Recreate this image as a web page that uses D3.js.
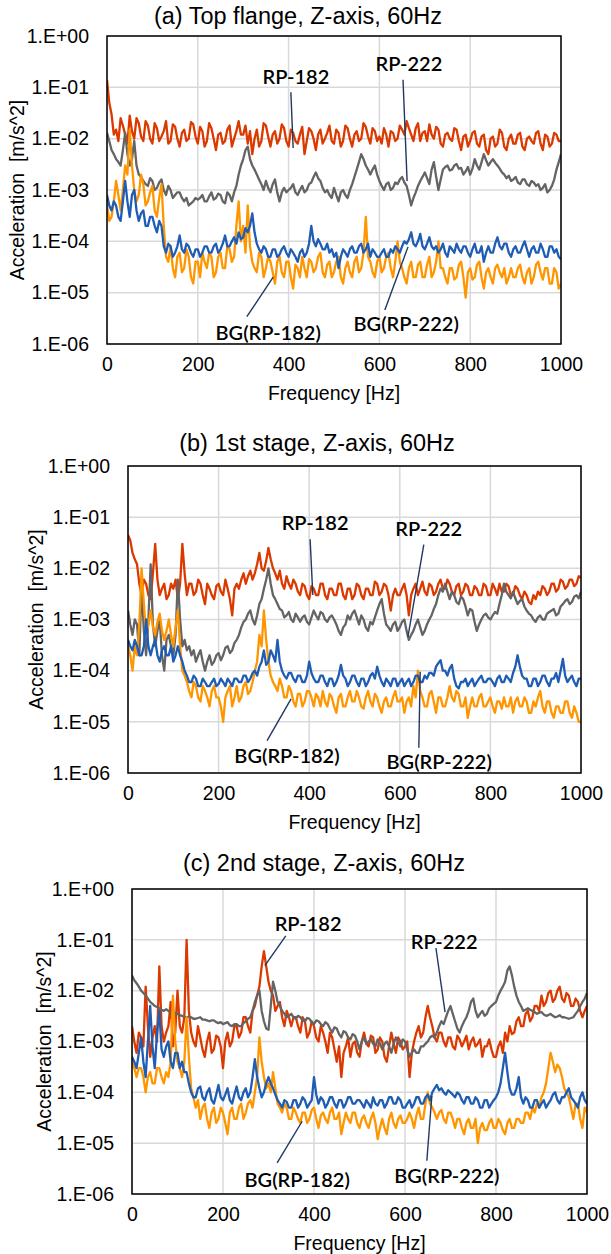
<!DOCTYPE html>
<html>
<head>
<meta charset="utf-8">
<script src="https://cdn.jsdelivr.net/npm/d3@7"></script>
<style>
  body { margin: 0; background: #fff; }
  svg text { font-family: "Liberation Sans", Arial, sans-serif; fill: #000; }
  .ann { font-family: Lato, "Open Sans", sans-serif; font-weight: 600; }
</style>
</head>
<body>
<svg id="chart" width="611" height="1254"></svg>
<script>
// sampling grid, Hz (5 Hz steps, 0..1000)
var freq = d3.range(0, 1001, 5);

var titles = ["(a) Top flange, Z-axis, 60Hz", "(b) 1st stage, Z-axis, 60Hz", "(c) 2nd stage, Z-axis, 60Hz"];
var seriesNames = ["RP-182", "RP-222", "BG(RP-182)", "BG(RP-222)"];
var xTicks = [0, 200, 400, 600, 800, 1000];
var yTicks = [1e-6, 1e-5, 1e-4, 1e-3, 1e-2, 1e-1, 1];
var yTickLabels = ["1.E-06", "1.E-05", "1.E-04", "1.E-03", "1.E-02", "1.E-01", "1.E+00"];

// (a) top flange
var aRP182 = [
  140e-3,50e-3,30e-3,12e-3,15e-3,9e-3,25e-3,18e-3,12e-3,8e-3,28e-3,14e-3,10e-3,25e-3,20e-3,11e-3,9e-3,22e-3,18e-3,10e-3,
  8e-3,20e-3,16e-3,9e-3,11e-3,14e-3,22e-3,8e-3,9e-3,19e-3,17e-3,10e-3,7e-3,13e-3,15e-3,9e-3,10e-3,21e-3,19e-3,11e-3,
  8e-3,17e-3,14e-3,7e-3,9e-3,20e-3,16e-3,10e-3,6e-3,12e-3,13e-3,8e-3,9e-3,15e-3,18e-3,7e-3,10e-3,14e-3,22e-3,12e-3,
  12e-3,18e-3,8e-3,14e-3,5e-3,10e-3,15e-3,7e-3,9e-3,20e-3,18e-3,11e-3,7e-3,12e-3,14e-3,8e-3,10e-3,19e-3,16e-3,9e-3,
  7e-3,15e-3,13e-3,9e-3,8e-3,12e-3,17e-3,5e-3,9e-3,16e-3,14e-3,10e-3,6e-3,12e-3,15e-3,8e-3,10e-3,13e-3,18e-3,9e-3,
  8e-3,15e-3,13e-3,7e-3,9e-3,18e-3,16e-3,10e-3,7e-3,12e-3,14e-3,9e-3,10e-3,20e-3,17e-3,11e-3,8e-3,16e-3,14e-3,9e-3,
  11e-3,8e-3,16e-3,12e-3,7e-3,14e-3,13e-3,9e-3,10e-3,18e-3,15e-3,12e-3,22e-3,16e-3,12e-3,9e-3,16e-3,20e-3,9e-3,13e-3,
  14e-3,9e-3,19e-3,12e-3,10e-3,17e-3,15e-3,8e-3,7e-3,12e-3,13e-3,10e-3,9e-3,16e-3,15e-3,9e-3,6e-3,11e-3,12e-3,7e-3,
  9e-3,13e-3,14e-3,8e-3,7e-3,11e-3,12e-3,6e-3,5e-3,10e-3,11e-3,7e-3,8e-3,15e-3,13e-3,7e-3,6e-3,10e-3,12e-3,8e-3,
  8e-3,12e-3,13e-3,7e-3,6e-3,10e-3,11e-3,9e-3,8e-3,13e-3,14e-3,8e-3,6e-3,12e-3,11e-3,7e-3,8e-3,13e-3,12e-3,9e-3,
  9e-3];
var aRP222 = [
  13e-3,9e-3,6e-3,5e-3,4e-3,3.5e-3,3e-3,6e-3,13e-3,5e-3,3e-3,4e-3,9e-3,3e-3,2e-3,1.8e-3,1.5e-3,1.3e-3,1.2e-3,1.7e-3,
  1.5e-3,1.0e-3,1.1e-3,1.4e-3,1.6e-3,1.0e-3,0.8e-3,1.2e-3,1.0e-3,0.7e-3,0.8e-3,0.9e-3,0.9e-3,0.7e-3,0.6e-3,0.7e-3,0.5e-3,0.55e-3,0.6e-3,0.7e-3,
  0.65e-3,0.7e-3,0.8e-3,0.6e-3,0.6e-3,0.75e-3,0.9e-3,0.65e-3,0.7e-3,0.85e-3,0.8e-3,0.6e-3,0.55e-3,0.9e-3,0.8e-3,0.6e-3,0.9e-3,1.2e-3,2e-3,3e-3,
  4e-3,6e-3,7e-3,4e-3,3e-3,2.5e-3,2e-3,1.6e-3,1.3e-3,1.0e-3,1.5e-3,1.1e-3,0.9e-3,1.3e-3,1.6e-3,0.9e-3,0.6e-3,0.9e-3,1.1e-3,0.9e-3,
  1.0e-3,1.1e-3,1.3e-3,0.9e-3,0.8e-3,1.0e-3,1.2e-3,0.9e-3,1.0e-3,1.3e-3,1.4e-3,1.8e-3,2.2e-3,1.7e-3,1.5e-3,1.1e-3,0.9e-3,1.0e-3,0.8e-3,0.7e-3,
  1.1e-3,0.8e-3,0.6e-3,0.9e-3,1.0e-3,0.8e-3,0.7e-3,1.0e-3,1.3e-3,1.8e-3,2.5e-3,3.5e-3,5e-3,4e-3,3e-3,2.5e-3,2e-3,2.5e-3,3e-3,2e-3,
  1.5e-3,1.2e-3,1.0e-3,1.3e-3,1.4e-3,1.0e-3,1.1e-3,1.4e-3,1.3e-3,1.6e-3,1.8e-3,1.4e-3,1.2e-3,0.8e-3,0.5e-3,0.7e-3,0.9e-3,1.2e-3,1.5e-3,1.8e-3,
  2.2e-3,1.7e-3,1.3e-3,2.5e-3,3.5e-3,1.8e-3,1.0e-3,1.6e-3,2.5e-3,2.8e-3,3e-3,2.4e-3,2.5e-3,3.0e-3,3.2e-3,2.6e-3,2.7e-3,2.0e-3,2.3e-3,2.8e-3,
  2e-3,2.6e-3,4e-3,3e-3,2.5e-3,3.5e-3,5e-3,3.8e-3,3e-3,3.5e-3,4e-3,3.4e-3,3e-3,2.6e-3,2.2e-3,2.0e-3,1.7e-3,1.9e-3,1.5e-3,1.6e-3,
  1.8e-3,1.4e-3,1.3e-3,1.6e-3,1.6e-3,1.3e-3,1.2e-3,1.5e-3,1.4e-3,1.2e-3,1.3e-3,1.0e-3,1.1e-3,1.3e-3,0.9e-3,1.0e-3,1.2e-3,1.6e-3,2.5e-3,3.5e-3,
  5e-3];
var aBG182 = [
  5e-4,2.5e-4,3e-4,6e-4,1.5e-3,8e-4,4e-4,1e-3,3e-3,2e-3,15e-3,3e-3,1e-3,6e-4,8e-4,2e-3,1.3e-3,5e-4,6e-4,9e-4,
  1.2e-3,4e-4,3e-4,7e-4,1.3e-3,2e-4,5e-5,4e-5,8e-5,3e-5,2e-5,5e-5,6e-5,2.5e-5,3e-5,7e-5,5e-5,2e-5,1.5e-5,4e-5,
  4e-5,2e-5,6e-5,4e-5,3e-5,6e-5,5e-5,2e-5,2.5e-5,5e-5,6e-5,3e-5,3e-5,8e-5,7e-5,4e-5,5e-5,2e-4,6e-4,1e-4,
  2e-4,6e-5,5e-4,8e-5,4e-5,3e-5,2.5e-5,6e-5,5e-5,2e-5,3e-5,5e-5,4e-5,2.5e-5,1.5e-5,4e-5,5e-5,2.5e-5,2e-5,4e-5,
  4e-5,2e-5,1.2e-5,3.5e-5,3e-5,2e-5,5e-5,3e-5,2e-5,4.5e-5,4e-5,2.5e-5,3e-5,5e-5,6e-5,2.5e-5,2e-5,3.5e-5,4e-5,2e-5,
  2.5e-5,4e-5,5e-5,2e-5,1.5e-5,3e-5,4e-5,2.5e-5,2e-5,4e-5,5e-5,2.5e-5,3e-5,6e-5,3e-4,5e-5,4e-5,2.5e-5,2e-5,4e-5,
  5e-5,2.5e-5,3e-5,5e-5,6e-5,3e-5,2e-5,4e-5,1e-4,4e-5,3e-5,2e-5,1.5e-5,3e-5,4e-5,2e-5,2e-5,3.5e-5,4e-5,2e-5,
  2e-5,3.5e-5,5e-5,2e-5,2.5e-5,4e-5,1e-4,3e-5,3e-5,2e-5,1.5e-5,3e-5,3e-5,1.8e-5,2e-5,3.5e-5,4e-5,2e-5,8e-6,2.5e-5,
  3e-5,1.8e-5,2e-5,3.5e-5,4e-5,2e-5,1.2e-5,2.5e-5,3e-5,2e-5,1.5e-5,3e-5,3.5e-5,2.5e-5,2e-5,3e-5,1.5e-5,2e-5,3e-5,2e-5,
  2e-5,3e-5,3.5e-5,2e-5,1.5e-5,2.5e-5,3e-5,1.5e-5,2e-5,3.5e-5,4e-5,2.5e-5,1.8e-5,3e-5,3e-5,1.5e-5,1.5e-5,3e-5,2.5e-5,1.2e-5,
  1.5e-5];
var aBG222 = [
  8e-4,5e-4,4e-4,6e-4,5e-4,3e-4,2.5e-4,6e-4,1.5e-3,6e-4,3e-4,8e-4,1e-3,4e-4,2.5e-4,3.5e-4,4e-4,2e-4,2e-4,3e-4,
  3e-4,2e-4,1.5e-4,2.5e-4,2e-4,8e-5,6e-5,9e-5,8e-5,5e-5,6e-5,8e-5,1.3e-4,7e-5,6e-5,9e-5,8e-5,6e-5,5e-5,7e-5,
  7e-5,5e-5,6e-5,8e-5,8e-5,6e-5,6e-5,8e-5,9e-5,6e-5,7e-5,9e-5,1.3e-4,8e-5,8e-5,1e-4,1.2e-4,9e-5,1.5e-4,1.1e-4,
  1.2e-4,1.8e-4,1.5e-4,2e-4,3.5e-4,1.5e-4,9e-5,7e-5,6e-5,8e-5,7e-5,5e-5,5e-5,7e-5,7e-5,5e-5,5.5e-5,7e-5,8e-5,6e-5,
  5e-5,7e-5,6e-5,5e-5,4e-5,6e-5,7e-5,5e-5,6e-5,9e-5,2e-4,1e-4,8e-5,1.1e-4,9e-5,7e-5,7e-5,9e-5,6e-5,7e-5,
  5e-5,6e-5,3e-5,5e-5,7e-5,6e-5,5e-5,7e-5,8e-5,6e-5,6e-5,8e-5,9e-5,6e-5,7e-5,9e-5,5e-5,7e-5,6e-5,5e-5,
  5e-5,6e-5,7e-5,5e-5,5e-5,7e-5,6e-5,8e-5,7e-5,6e-5,8e-5,1e-4,9e-5,1.1e-4,1.5e-4,9e-5,8e-5,1e-4,1.4e-4,8e-5,
  7e-5,9e-5,1.2e-4,8e-5,7e-5,8e-5,6e-5,7e-5,9e-5,6e-5,5e-5,8e-5,7e-5,6e-5,9e-5,7e-5,6e-5,8e-5,8e-5,6e-5,
  5e-5,7e-5,9e-5,6e-5,6e-5,8e-5,4e-5,6e-5,8e-5,6e-5,6e-5,9e-5,1.2e-4,8e-5,7e-5,9e-5,9e-5,6e-5,5e-5,7e-5,
  8e-5,6e-5,6e-5,8e-5,1e-4,7e-5,5e-5,7e-5,8e-5,6e-5,6e-5,9e-5,7e-5,5e-5,5e-5,8e-5,8e-5,6e-5,7e-5,5e-5,
  4.5e-5];

// (b) 1st stage
var bRP182 = [
  45e-3,35e-3,20e-3,15e-3,12e-3,5e-3,3e-3,6e-3,5e-3,3e-3,2.5e-3,8e-3,30e-3,6e-3,3e-3,4e-3,5e-3,2.5e-3,3e-3,5e-3,
  4e-3,6e-3,2.5e-3,5e-3,30e-3,8e-3,3e-3,5e-3,5e-3,3e-3,3.5e-3,6e-3,5e-3,3e-3,2e-3,5e-3,4e-3,3e-3,2.5e-3,4.5e-3,
  5e-3,3.5e-3,3e-3,6e-3,4e-3,2.5e-3,1.2e-3,4e-3,5e-3,4e-3,6e-3,8e-3,5e-3,7e-3,9e-3,6e-3,8e-3,12e-3,20e-3,10e-3,
  9e-3,14e-3,25e-3,15e-3,10e-3,8e-3,6e-3,9e-3,5e-3,4e-3,7e-3,5e-3,4e-3,6e-3,5e-3,3.5e-3,3e-3,5e-3,4.5e-3,3e-3,
  2.5e-3,4.5e-3,4e-3,3e-3,3e-3,5e-3,5e-3,3e-3,2.5e-3,4e-3,4e-3,3e-3,3e-3,5e-3,5e-3,3e-3,2.5e-3,4e-3,4e-3,2.5e-3,
  3e-3,5e-3,4.5e-3,3e-3,2.5e-3,4e-3,4e-3,3e-3,3e-3,5.5e-3,5e-3,3e-3,3.5e-3,5e-3,4.5e-3,3e-3,1.5e-3,3e-3,4e-3,3e-3,
  3e-3,4e-3,5e-3,3e-3,1.2e-3,3e-3,4e-3,5e-3,3e-3,4e-3,5.5e-3,3.5e-3,3e-3,5e-3,4.5e-3,3e-3,3.5e-3,5e-3,6e-3,4e-3,
  4e-3,6e-3,5e-3,3.5e-3,3e-3,4.5e-3,5e-3,3e-3,3.5e-3,5e-3,4.5e-3,3e-3,3e-3,4.5e-3,4e-3,3e-3,3e-3,5e-3,4.5e-3,3e-3,
  3e-3,5e-3,4e-3,3e-3,5e-3,3.5e-3,3.5e-3,5e-3,4.5e-3,3e-3,3e-3,4.5e-3,4e-3,3e-3,2.5e-3,3.5e-3,3e-3,2.2e-3,2e-3,3e-3,
  2.5e-3,3.5e-3,3e-3,4.5e-3,4e-3,3e-3,3.5e-3,5e-3,5e-3,3.5e-3,4e-3,6e-3,5.5e-3,4e-3,4.5e-3,6e-3,6e-3,4.5e-3,5e-3,7e-3,
  6.5e-3];
var bRP222 = [
  1.5e-3,8e-4,5e-4,1e-3,8e-4,2e-4,5e-3,6e-4,2e-4,1e-3,12e-3,8e-4,3e-4,6e-4,1e-3,2e-4,1e-4,4e-4,5e-4,3e-4,
  2e-4,5e-4,6e-3,1e-3,3e-4,4e-4,2.5e-4,3e-4,2e-4,2.5e-4,1.5e-4,2e-4,2.5e-4,1.5e-4,1e-4,1.5e-4,2e-4,1.3e-4,1.5e-4,2e-4,
  2.2e-4,1.6e-4,2e-4,2.8e-4,3e-4,2.2e-4,2.5e-4,3.5e-4,4e-4,5e-4,7e-4,9e-4,1e-3,1.3e-3,1.5e-3,1e-3,8e-4,1.2e-3,2e-3,2.5e-3,
  4e-3,6e-3,10e-3,5e-3,3e-3,2.5e-3,2e-3,1.6e-3,1.5e-3,1.1e-3,1.2e-3,1.4e-3,1e-3,0.9e-3,1.3e-3,1.1e-3,9e-4,1.1e-3,1.2e-3,9e-4,
  8e-4,1.1e-3,1.5e-3,1.2e-3,1e-3,1.4e-3,1.3e-3,1e-3,9e-4,1.1e-3,1.2e-3,1e-3,8e-4,6e-4,5e-4,7e-4,8e-4,1.2e-3,1e-3,1.3e-3,
  1.5e-3,1.1e-3,8e-4,1.2e-3,1e-3,7e-4,6e-4,9e-4,8e-4,1.1e-3,1.5e-3,2e-3,2.5e-3,1.3e-3,8e-4,7e-4,6e-4,8e-4,9e-4,6e-4,
  7e-4,9e-4,1e-3,6e-4,4e-4,5e-4,6e-4,8e-4,1e-3,7e-4,5e-4,6e-4,8e-4,1e-3,1.2e-3,1.6e-3,2e-3,3e-3,4e-3,3.5e-3,
  5e-3,3.5e-3,2.5e-3,3.5e-3,3e-3,2.2e-3,2e-3,2.8e-3,2.5e-3,1.8e-3,1.2e-3,1.6e-3,1.5e-3,9e-4,6e-4,8e-4,1e-3,1.2e-3,1.3e-3,1.1e-3,
  1e-3,1.2e-3,1.4e-3,1.3e-3,2e-3,3e-3,5e-3,3.5e-3,3e-3,2.6e-3,3.5e-3,2.6e-3,2e-3,2.3e-3,2.5e-3,1.8e-3,1.5e-3,1.3e-3,1.2e-3,1e-3,
  9e-4,1.1e-3,1.2e-3,1e-3,1e-3,1.3e-3,1.4e-3,1.5e-3,1.6e-3,1.2e-3,1.3e-3,1.8e-3,2e-3,2.3e-3,2.5e-3,2e-3,2.2e-3,2.8e-3,3e-3,2.6e-3,
  3.5e-3];
var bBG182 = [
  3e-4,2e-4,1e-4,3e-4,2e-4,8e-4,10e-3,2e-3,5e-4,8e-4,1.5e-3,7e-4,5e-4,9e-4,1.3e-3,6e-4,4e-4,6e-4,1e-3,5e-4,
  3e-4,7e-4,1.5e-3,3e-4,1e-4,8e-5,6e-5,4e-5,3e-5,6e-5,5e-5,3e-5,2.5e-5,5e-5,4e-5,3e-5,2e-5,4e-5,5e-5,3e-5,
  3e-5,2e-5,1e-5,3e-5,4e-5,5e-5,2e-5,3e-5,5e-5,2.5e-5,3e-5,5e-5,6e-5,3.5e-5,4e-5,6e-5,1e-4,1.5e-4,5e-4,3e-4,
  1.5e-3,4e-4,1.5e-4,8e-5,6e-5,5e-5,4e-5,7e-5,5e-5,3e-5,3e-5,5e-5,4e-5,2.5e-5,2e-5,3.5e-5,3.5e-5,2e-5,2.5e-5,4e-5,
  4e-5,3e-5,2e-5,3.5e-5,3e-5,2e-5,4e-5,2.5e-5,2e-5,3.5e-5,3e-5,2e-5,1.5e-5,3e-5,3.5e-5,2e-5,2e-5,3e-5,4e-5,2.5e-5,
  2.5e-5,4e-5,3e-5,2e-5,1.8e-5,3e-5,4e-5,2.5e-5,2e-5,3.5e-5,3e-5,2e-5,1.5e-5,2.5e-5,3e-5,2e-5,2e-5,3e-5,4e-5,2.5e-5,
  2.5e-5,3e-5,1.5e-5,2.5e-5,3e-5,2e-5,5e-5,3e-5,1e-4,4e-5,3e-5,2e-5,2e-5,3.5e-5,4e-5,2.5e-5,1.5e-5,3e-5,3e-5,2e-5,
  2e-5,3e-5,5e-5,3e-5,2.5e-5,4e-5,3.5e-5,2e-5,2e-5,3e-5,1.2e-5,2e-5,3e-5,2e-5,2e-5,3e-5,3.5e-5,2e-5,2e-5,2.5e-5,
  3e-5,2e-5,1.5e-5,2.5e-5,2.5e-5,1.8e-5,3e-5,2e-5,2e-5,3e-5,1.5e-5,2.5e-5,3e-5,2e-5,2e-5,3e-5,2.5e-5,1.5e-5,1.5e-5,2.5e-5,
  2e-5,3e-5,4e-5,2e-5,1.5e-5,2.5e-5,2.5e-5,1.5e-5,1.2e-5,2e-5,2e-5,1.5e-5,1.5e-5,2.5e-5,2.5e-5,1.5e-5,1.2e-5,2e-5,1.5e-5,1e-5,
  1e-5];
var bBG222 = [
  4e-4,3e-4,2.5e-4,4e-4,3e-4,2e-4,2e-4,3e-4,1e-3,3e-4,2e-4,3e-4,4e-4,2e-4,1.5e-4,2.5e-4,3e-4,2e-4,2e-4,3e-4,
  1.5e-4,2e-4,3e-4,2e-4,1.5e-4,1e-4,8e-5,6e-5,6e-5,8e-5,7e-5,5e-5,5e-5,7e-5,6e-5,5e-5,5e-5,6e-5,7e-5,5e-5,
  5.5e-5,7e-5,6e-5,5e-5,7e-5,6e-5,5e-5,7e-5,7e-5,6e-5,6e-5,8e-5,8e-5,6e-5,7e-5,9e-5,1e-4,8e-5,1.2e-4,1.5e-4,
  2.5e-4,1.3e-4,1.5e-4,2.5e-4,2e-4,1.5e-4,4e-4,1.5e-4,1e-4,8e-5,7e-5,9e-5,9e-5,7e-5,6e-5,8e-5,8e-5,6e-5,6e-5,8e-5,
  1.5e-4,9e-5,7e-5,6e-5,6e-5,8e-5,8e-5,6e-5,5e-5,7e-5,7e-5,5e-5,6e-5,8e-5,1.3e-4,8e-5,7e-5,5e-5,6e-5,8e-5,
  8e-5,6e-5,5e-5,7e-5,7e-5,5e-5,6e-5,8e-5,9e-5,7e-5,1.2e-4,8e-5,6e-5,5e-5,7e-5,6e-5,5e-5,7e-5,7e-5,5e-5,
  6e-5,7e-5,5e-5,6e-5,7e-5,5e-5,6e-5,8e-5,8e-5,6e-5,6e-5,8e-5,7e-5,9e-5,9e-5,8e-5,1.2e-4,1.4e-4,1.6e-4,1e-4,
  1e-4,8e-5,1.1e-4,1.3e-4,7e-5,5e-5,4.5e-5,6e-5,6e-5,7e-5,5e-5,6e-5,7e-5,5e-5,6e-5,7e-5,8e-5,6e-5,6e-5,7e-5,
  7e-5,6e-5,5e-5,7e-5,8e-5,6e-5,6e-5,8e-5,7e-5,6e-5,9e-5,1.2e-4,2e-4,1.2e-4,8e-5,7e-5,7e-5,5e-5,5e-5,7e-5,
  7e-5,5e-5,6e-5,8e-5,8e-5,6e-5,5e-5,7e-5,7e-5,9e-5,6e-5,1e-4,1.7e-4,8e-5,6e-5,7e-5,8e-5,6e-5,5e-5,7e-5,
  7e-5];

// (c) 2nd stage
var cRP182 = [
  2e-3,1e-3,6e-4,1.5e-3,1.2e-3,8e-4,12e-3,2e-3,5e-4,1.2e-3,2e-3,1e-3,30e-3,2e-3,1e-3,1.5e-3,2e-3,6e-3,8e-4,1.5e-3,
  10e-3,2e-3,1.5e-3,3e-3,100e-3,4e-3,1.5e-3,1e-3,8e-4,2e-3,1.2e-3,7e-4,5e-4,1e-3,1.5e-3,6e-4,7e-4,1.3e-3,1.2e-3,8e-4,
  3e-4,1e-3,1.5e-3,8e-4,1e-3,2e-3,2e-3,1.2e-3,1.5e-3,3e-3,3e-3,2e-3,1.5e-3,4e-3,5e-3,8e-3,12e-3,30e-3,60e-3,30e-3,
  15e-3,10e-3,8e-3,4e-3,5e-3,6e-3,3e-3,2e-3,4e-3,3e-3,2e-3,3e-3,3e-3,2e-3,1.5e-3,3e-3,2.5e-3,1.2e-3,1.5e-3,2.5e-3,
  2e-3,1.2e-3,1e-3,2e-3,1.5e-3,1e-3,6e-4,1.5e-3,1.2e-3,7e-4,4e-4,8e-4,2e-4,6e-4,8e-4,1.2e-3,5e-4,9e-4,1e-3,6e-4,
  5e-4,1e-3,1.5e-3,9e-4,8e-4,1.3e-3,1.2e-3,6e-4,7e-4,1.2e-3,1e-3,5e-4,4e-4,8e-4,1.5e-3,9e-4,6e-4,1.2e-3,1e-3,7e-4,
  8e-4,1e-3,2e-4,6e-4,1e-3,1.5e-3,2e-3,1.2e-3,1.5e-3,3e-3,5e-3,3e-3,2e-3,1.2e-3,1e-3,1.5e-3,1.5e-3,1e-3,8e-4,1.2e-3,
  1.2e-3,8e-4,7e-4,1.3e-3,1.1e-3,8e-4,1e-3,1.3e-3,7e-4,1e-3,1.2e-3,8e-4,9e-4,1.1e-3,5e-4,8e-4,8e-4,1.1e-3,7e-4,5e-4,
  5e-4,8e-4,1e-3,6e-4,1.5e-3,1e-3,2e-3,1.4e-3,1.5e-3,2.5e-3,3e-3,2e-3,2e-3,3.5e-3,4e-3,2.5e-3,3e-3,5e-3,5e-3,4e-3,
  8e-3,5e-3,6e-3,9e-3,10e-3,6e-3,7e-3,10e-3,12e-3,7e-3,6e-3,9e-3,8e-3,5e-3,5e-3,7e-3,6e-3,4e-3,3e-3,4e-3,
  5e-3];
var cRP222 = [
  20e-3,16e-3,14e-3,12e-3,10e-3,9e-3,8e-3,7e-3,6e-3,5.5e-3,5e-3,4.8e-3,4.5e-3,4.2e-3,4e-3,4.3e-3,4e-3,3.7e-3,3.5e-3,3.6e-3,
  3.5e-3,3.3e-3,3.2e-3,3.0e-3,3e-3,3.1e-3,3e-3,2.8e-3,2.8e-3,2.9e-3,3e-3,2.7e-3,2.7e-3,2.6e-3,2.5e-3,2.6e-3,2.6e-3,2.4e-3,2.3e-3,2.4e-3,
  2.2e-3,2.3e-3,2.4e-3,2.1e-3,2e-3,2.2e-3,2.2e-3,2.0e-3,2e-3,2.3e-3,2.5e-3,2.8e-3,3e-3,4e-3,6e-3,8e-3,10e-3,4e-3,2.5e-3,1.8e-3,
  1.7e-3,5e-3,15e-3,10e-3,6e-3,5e-3,4e-3,3.5e-3,3e-3,3.2e-3,3.5e-3,3e-3,2.8e-3,3.2e-3,3e-3,2.6e-3,2.5e-3,2.9e-3,2.8e-3,2.4e-3,
  2.2e-3,2.6e-3,2.5e-3,2.2e-3,2e-3,2.4e-3,2.2e-3,1.8e-3,1.5e-3,1.9e-3,1.8e-3,1.4e-3,1.2e-3,1.6e-3,1.5e-3,1.2e-3,1.1e-3,1.4e-3,1.3e-3,1.0e-3,
  0.7e-3,1.0e-3,1.2e-3,0.9e-3,1e-3,1.1e-3,0.9e-3,0.8e-3,1.1e-3,0.9e-3,0.7e-3,0.9e-3,1e-3,0.8e-3,0.6e-3,0.9e-3,1.2e-3,1.0e-3,0.8e-3,1.1e-3,
  1e-3,0.7e-3,0.5e-3,0.6e-3,0.7e-3,0.6e-3,0.6e-3,0.8e-3,0.8e-3,0.9e-3,1e-3,1.2e-3,1.3e-3,1.2e-3,1.5e-3,2e-3,2.5e-3,2.2e-3,3e-3,4e-3,
  5e-3,3.5e-3,2.5e-3,1.8e-3,1.5e-3,2e-3,2.5e-3,3e-3,4e-3,6e-3,7e-3,4e-3,3e-3,3.5e-3,4e-3,3.2e-3,3.5e-3,4.5e-3,5e-3,5.5e-3,
  6e-3,8e-3,10e-3,12e-3,15e-3,25e-3,30e-3,20e-3,12e-3,8e-3,6e-3,5e-3,4e-3,4.2e-3,4.5e-3,4.2e-3,4e-3,3.8e-3,3.5e-3,3.7e-3,
  3.8e-3,3.4e-3,3.2e-3,3.3e-3,3.5e-3,3.2e-3,3e-3,3.1e-3,3.3e-3,3.0e-3,3e-3,2.9e-3,2.8e-3,2.9e-3,3e-3,3.5e-3,4e-3,5e-3,6e-3,7e-3,
  9e-3];
var cBG182 = [
  4e-4,3e-4,2e-4,3e-4,3e-4,2e-4,1e-4,2e-4,2.5e-4,1.5e-4,1.5e-4,3e-4,3e-4,2e-4,1.5e-4,2.5e-4,2e-4,4e-4,8e-3,1e-3,
  4e-4,3e-4,2e-4,4e-4,3e-3,5e-4,1.2e-4,8e-5,5e-5,7e-5,3e-5,5e-5,6e-5,3e-5,2e-5,4e-5,5e-5,2.5e-5,3e-5,5e-5,
  4e-5,2.5e-5,1.5e-5,4e-5,5e-5,3e-5,3e-5,5e-5,6e-5,3e-5,4e-5,6e-5,7e-5,5e-5,1e-4,2e-4,1.2e-3,4e-4,2e-4,1.2e-4,
  1.5e-4,1e-4,2.5e-4,1.2e-4,6e-5,5e-5,4e-5,6e-5,5e-5,3e-5,3e-5,5e-5,4e-5,3e-5,2.5e-5,4e-5,4e-5,2.5e-5,3e-5,4.5e-5,
  5e-5,3e-5,2e-5,3.5e-5,4e-5,3e-5,2.5e-5,4e-5,5e-5,3e-5,3e-5,4e-5,1.5e-5,2.5e-5,4e-5,3e-5,2.5e-5,4e-5,4e-5,2.5e-5,
  2e-5,3e-5,3.5e-5,2.5e-5,2e-5,3e-5,4e-5,2.5e-5,1.2e-5,2e-5,3e-5,2e-5,1.5e-5,3e-5,4e-5,2.5e-5,2e-5,3e-5,3.5e-5,2.5e-5,
  2.5e-5,3e-5,4e-5,3e-5,2e-5,3.5e-5,5e-5,3e-5,3e-5,6e-5,1e-4,6e-5,5e-5,4e-5,3e-5,4e-5,4.5e-5,3e-5,2.5e-5,4e-5,
  4e-5,3e-5,2e-5,3e-5,3e-5,2e-5,1.5e-5,2.5e-5,3e-5,2e-5,2e-5,3e-5,1e-5,2e-5,2.5e-5,1.8e-5,1.8e-5,2.5e-5,3e-5,2e-5,
  2e-5,3e-5,2.5e-5,1.8e-5,1.5e-5,2.5e-5,3e-5,2e-5,2e-5,3e-5,3e-5,2.5e-5,2.5e-5,4e-5,4e-5,3e-5,5e-5,4e-5,6e-5,5e-5,
  8e-5,1e-4,1.5e-4,3e-4,6e-4,4e-4,2.5e-4,3.5e-4,3e-4,2e-4,1.2e-4,1e-4,8e-5,5e-5,3e-5,6e-5,6e-5,3e-5,2e-5,5e-5,
  4e-5];
var cBG222 = [
  5e-4,4e-4,3e-4,6e-4,1.2e-3,4e-4,2e-4,1e-3,5e-3,8e-4,3e-4,1.5e-3,4e-3,7e-4,5e-4,8e-4,1e-3,4e-4,3e-4,6e-4,
  6e-4,3e-4,4e-4,2.5e-4,2.5e-4,1.5e-4,1e-4,8e-5,8e-5,1.2e-4,1.3e-4,8e-5,7e-5,1e-4,1.2e-4,7e-5,6e-5,9e-5,1.4e-4,8e-5,
  7e-5,9e-5,1.2e-4,7e-5,6e-5,9e-5,1.3e-4,8e-5,7e-5,1e-4,1.2e-4,8e-5,1e-4,2e-4,4.5e-4,2e-4,1.2e-4,8e-5,1e-4,1.5e-4,
  2e-4,1.5e-4,1.2e-4,9e-5,7e-5,6e-5,5e-5,7e-5,6.5e-5,5e-5,5e-5,7e-5,7e-5,5e-5,6e-5,8e-5,7e-5,5e-5,6e-5,7e-5,
  2e-4,9e-5,6e-5,8e-5,7e-5,5e-5,6e-5,8e-5,8e-5,6e-5,5e-5,7e-5,7e-5,5e-5,6e-5,8e-5,8e-5,6e-5,6e-5,7e-5,
  7e-5,6e-5,5e-5,7e-5,6e-5,5e-5,8e-5,6e-5,5.5e-5,7e-5,7e-5,5e-5,6e-5,8e-5,8e-5,6e-5,6e-5,8e-5,7e-5,5e-5,
  5e-5,6e-5,7e-5,5e-5,6e-5,8e-5,8e-5,6e-5,6e-5,8e-5,9e-5,7e-5,1e-4,1.2e-4,1.4e-4,1.1e-4,1.2e-4,1e-4,9e-5,1.1e-4,
  1e-4,9e-5,8e-5,1e-4,9e-5,7e-5,6e-5,8e-5,8e-5,6e-5,6e-5,8e-5,7e-5,5e-5,5e-5,7e-5,7e-5,5e-5,6e-5,7e-5,
  8e-5,1e-4,1.5e-4,3e-4,6e-4,2.5e-4,1.2e-4,9e-5,9e-5,1.2e-4,2e-4,8e-5,6e-5,8e-5,7e-5,5e-5,5e-5,7e-5,7e-5,5e-5,
  6e-5,7e-5,5e-5,6e-5,7e-5,9e-5,1e-4,7e-5,6e-5,8e-5,8e-5,1e-4,1.2e-4,8e-5,7e-5,6e-5,5e-5,8e-5,1e-4,7e-5,
  6e-5];

// callouts: [label, text Hz, text value, leader from Hz, value, leader to Hz, value]
var notesA = [
  ["RP-182", 416, 0.17, 405, 8e-2, 410, 6.6e-3],
  ["RP-222", 665, 0.30, 652, 0.14, 661, 1.5e-3],
  ["BG(RP-182)", 355, 1.7e-6, 308, 3.4e-6, 366, 2e-5],
  ["BG(RP-222)", 659, 2.6e-6, 612, 4.6e-6, 663, 7.8e-5]
];
var notesB = [
  ["RP-182", 413, 8.1e-2, 402, 3.7e-2, 408, 3e-3],
  ["RP-222", 664, 6.2e-2, 653, 2.9e-2, 618, 4.6e-4],
  ["BG(RP-182)", 351, 2.2e-6, 307, 4.3e-6, 360, 2.8e-5],
  ["BG(RP-222)", 687, 1.7e-6, 642, 3.1e-6, 645, 9.5e-5]
];
var notesC = [
  ["RP-182", 387, 0.21, 338, 0.12, 292, 3.1e-2],
  ["RP-222", 686, 9.5e-2, 668, 6.9e-2, 688, 3.8e-3],
  ["BG(RP-182)", 363, 2e-6, 319, 4.1e-6, 374, 2.7e-5],
  ["BG(RP-222)", 692, 2.4e-6, 648, 4.5e-6, 659, 8.5e-5]
];

var colors = ["#dc3900", "#646464", "#ff9600", "#1f5db4"];

var panels = [
  { title: titles[0], data: [aRP182, aRP222, aBG182, aBG222], notes: notesA,
    left: 107, top: 36, width: 454, height: 308, titleX: 298, titleY: 16, ylabX: 17 },
  { title: titles[1], data: [bRP182, bRP222, bBG182, bBG222], notes: notesB,
    left: 128, top: 466, width: 453, height: 307, titleX: 317, titleY: 443, ylabX: 36 },
  { title: titles[2], data: [cRP182, cRP222, cBG182, cBG222], notes: notesC,
    left: 132, top: 889, width: 455, height: 305, titleX: 324, titleY: 863, ylabX: 44 }
];

var svg = d3.select("#chart");

panels.forEach(function(p, pi) {
  var x = d3.scaleLinear().domain([0, 1000]).range([0, p.width]),
      y = d3.scaleLog().domain([1e-6, 1]).range([p.height, 0]);

  svg.append("text")
    .attr("x", p.titleX).attr("y", p.titleY)
    .attr("text-anchor", "middle").attr("dominant-baseline", "central")
    .style("font-size", "23.5px")
    .text(p.title);

  var g = svg.append("g").attr("transform", "translate(" + p.left + "," + p.top + ")");

  // grid
  g.append("g").selectAll("line").data(yTicks).enter().append("line")
    .attr("x1", 0).attr("x2", p.width)
    .attr("y1", function(d) { return y(d); }).attr("y2", function(d) { return y(d); })
    .attr("stroke", "#d9d9d9").attr("stroke-width", 1.5);
  g.append("g").selectAll("line").data(xTicks).enter().append("line")
    .attr("y1", 0).attr("y2", p.height)
    .attr("x1", function(d) { return x(d); }).attr("x2", function(d) { return x(d); })
    .attr("stroke", "#d9d9d9").attr("stroke-width", 1.5);

  // axes (labels only)
  var yAxis = d3.axisLeft(y).tickValues(yTicks).tickSize(0).tickPadding(18)
    .tickFormat(function(d, i) { return yTickLabels[i]; });
  var xAxis = d3.axisBottom(x).tickValues(xTicks).tickSize(0).tickPadding(13)
    .tickFormat(d3.format("d"));
  var ya = g.append("g").call(yAxis);
  var xa = g.append("g").attr("transform", "translate(0," + p.height + ")").call(xAxis);
  [ya, xa].forEach(function(a) {
    a.select(".domain").remove();
    a.selectAll("text").style("font-size", "19.5px").attr("fill", "#000")
      .style("font-family", "'Liberation Sans', Arial, sans-serif");
  });

  // series
  var clipId = "clip" + pi;
  g.append("clipPath").attr("id", clipId).append("rect")
    .attr("width", p.width).attr("height", p.height);
  var line = d3.line()
    .x(function(d, i) { return x(freq[i]); })
    .y(function(d) { return y(d); });
  var lines = g.append("g").attr("clip-path", "url(#" + clipId + ")");
  p.data.forEach(function(s, si) {
    lines.append("path").datum(s)
      .attr("d", line)
      .attr("fill", "none")
      .attr("stroke", colors[si])
      .attr("stroke-width", 2.3)
      .attr("stroke-linejoin", "round");
  });

  // frame
  g.append("rect").attr("width", p.width).attr("height", p.height)
    .attr("fill", "none").attr("stroke", "#000").attr("stroke-width", 1.5);

  // axis titles
  svg.append("text")
    .attr("x", p.left + p.width / 2).attr("y", p.top + p.height + 49)
    .attr("text-anchor", "middle").attr("dominant-baseline", "central")
    .style("font-size", "19.5px")
    .text("Frequency [Hz]");
  svg.append("text")
    .attr("transform", "translate(" + p.ylabX + "," + (p.top + p.height / 2) + ") rotate(-90)")
    .attr("text-anchor", "middle").attr("dominant-baseline", "central")
    .style("font-size", "19.5px")
    .text("Acceleration\u00a0 [m/s^2]");

  // callouts
  p.notes.forEach(function(n) {
    g.append("line")
      .attr("x1", x(n[3])).attr("y1", y(n[4]))
      .attr("x2", x(n[5])).attr("y2", y(n[6]))
      .attr("stroke", "#1f3864").attr("stroke-width", 1.4);
    g.append("text").attr("class", "ann")
      .attr("x", x(n[1])).attr("y", y(n[2]))
      .attr("text-anchor", "middle").attr("dominant-baseline", "central")
      .style("font-size", "20px")
      .text(n[0]);
  });
});
</script>
</body>
</html>
